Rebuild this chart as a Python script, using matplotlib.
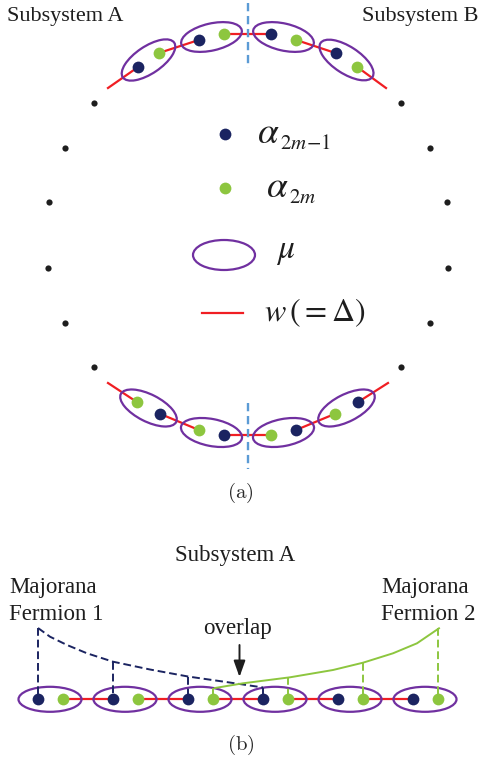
import numpy as np
import matplotlib.pyplot as plt
from matplotlib.patches import Ellipse

NAVY = '#1b2461'
GREEN = '#8dc63f'
PURPLE = '#7030a0'
RED = '#f01e23'
BLUE = '#5b9bd5'
SERIF = ['Liberation Serif', 'DejaVu Serif']
INK = '#1e1e1e'

# (a) ring of sites, pixel units of the figure
top_x = [148.5, 211.5, 283.5, 346.5]
top_y = [60, 37, 37, 60]
top_tilt = [-34, -13, 13, 33]
bot_x = [148.5, 211.5, 283.5, 346.5]
bot_y = [408, 432.5, 432.5, 408]
bot_tilt = [27, 11, -11, -27]
top_ends = [(108, 88), (386, 88)]
bot_ends = [(108, 383), (388, 383)]
ring_left_x = [94.3, 65, 49, 47.7, 65, 94.3]
ring_right_x = [400.5, 429.5, 446.5, 447.5, 430, 400.5]
ring_y = [103, 147.5, 201.5, 268, 322.5, 367]
cut_x = 247.5

# (b) open chain
chain_x = [50, 125, 200, 275, 350, 425]
chain_y = 699.3
mf1_curve_x = [38, 50, 67, 87, 113, 150, 188, 233, 263]
mf1_curve_y = [628, 636.7, 645, 653.3, 661.7, 669.5, 676.5, 683, 687.5]
mf2_curve_x = [215, 243, 290, 333, 363, 393, 417, 439]
mf2_curve_y = [688, 683.3, 677.3, 670, 662.7, 653.3, 643.3, 628.3]
mf1_drop_top = [628, 661.7, 676.5, 687.5]   # at the dark dots of sites 1-4
mf2_drop_top = [688, 677.3, 662.7, 628.3]   # at the green dots of sites 3-6

half = 12.5

fig = plt.figure(figsize=(4.84, 7.6), dpi=100)
ax = fig.add_axes([0, 0, 1, 1])
ax.set_xlim(0, 484)
ax.set_ylim(760, 0)
ax.set_aspect('equal')
ax.axis('off')


def site(cx, cy, tilt, w=62, h=27):
    t = np.radians(tilt)
    dx, dy = half * np.cos(t), half * np.sin(t)
    ax.add_patch(Ellipse((cx, cy), w, h, angle=tilt, fill=False,
                         ec=PURPLE, lw=1.6, zorder=2))
    return (cx - dx, cy - dy), (cx + dx, cy + dy)


def dot(p, c, s=72):
    ax.scatter([p[0]], [p[1]], s=s, c=c, lw=0, zorder=3)


def seg(p, q, **kw):
    ax.plot([p[0], q[0]], [p[1], q[1]], **kw)


# top arc: dark then green in each site
tops = [site(x, y, t) for x, y, t in zip(top_x, top_y, top_tilt)]
for a, b in tops:
    dot(a, NAVY)
    dot(b, GREEN)
seg(top_ends[0], tops[0][0], color=RED, lw=1.6, zorder=1)
for i in range(3):
    seg(tops[i][1], tops[i + 1][0], color=RED, lw=1.6, zorder=1)
seg(tops[-1][1], top_ends[1], color=RED, lw=1.6, zorder=1)

# bottom arc: green then dark
bots = [site(x, y, t) for x, y, t in zip(bot_x, bot_y, bot_tilt)]
for a, b in bots:
    dot(a, GREEN)
    dot(b, NAVY)
seg(bot_ends[0], bots[0][0], color=RED, lw=1.6, zorder=1)
for i in range(3):
    seg(bots[i][1], bots[i + 1][0], color=RED, lw=1.6, zorder=1)
seg(bots[-1][1], bot_ends[1], color=RED, lw=1.6, zorder=1)

ax.plot([cut_x, cut_x], [3, 68], color=BLUE, lw=1.7, ls=(0, (3.5, 2)), zorder=4)
ax.plot([cut_x, cut_x], [403, 469], color=BLUE, lw=1.7, ls=(0, (3.5, 2)), zorder=4)

ax.scatter(ring_left_x + ring_right_x, ring_y + ring_y, s=20, c=INK, lw=0)

ax.text(7, 21, 'Subsystem A', family=SERIF, fontsize=16, color=INK)
ax.text(479, 21, 'Subsystem B', family=SERIF, fontsize=16, color=INK, ha='right')

# legend
dot((225, 134.3), NAVY)
dot((225, 188.3), GREEN)
ax.add_patch(Ellipse((224, 255), 62, 30, fill=False, ec=PURPLE, lw=1.6))
seg((201.7, 312.7), (243.3, 312.7), color=RED, lw=1.6)
ax.text(257, 143, r'$\alpha$', fontsize=27, math_fontfamily='stix', va='baseline', color=INK)
ax.text(280, 149, r'$2m\!-\!1$', fontsize=15, math_fontfamily='stix', va='baseline', color=INK)
ax.text(266, 197, r'$\alpha$', fontsize=27, math_fontfamily='stix', va='baseline', color=INK)
ax.text(289, 203, r'$2m$', fontsize=15, math_fontfamily='stix', va='baseline', color=INK)
ax.text(276, 258, r'$\mu$', fontsize=24, math_fontfamily='stix', va='baseline', color=INK)
ax.text(264, 321, r'$w\,(=\Delta)$', fontsize=23, math_fontfamily='stix', va='baseline', color=INK)

ax.text(240.5, 493, r'$\mathrm{(a)}$', fontsize=15, math_fontfamily='cm',
        ha='center', va='center', color='#2a2a2a')

# (b) chain
sites_b = [site(x, chain_y, 0, w=63, h=25) for x in chain_x]
for i in range(5):
    seg(sites_b[i][1], sites_b[i + 1][0], color=RED, lw=1.6, zorder=1)
for a, b in sites_b:
    dot(a, NAVY)
    dot(b, GREEN)

ax.plot(mf1_curve_x, mf1_curve_y, color=NAVY, lw=1.4, ls=(0, (4, 2)), zorder=2)
ax.plot(mf2_curve_x, mf2_curve_y, color=GREEN, lw=1.4, zorder=2)
for (a, b), top in zip(sites_b[:4], mf1_drop_top):
    ax.plot([a[0], a[0]], [top, a[1]], color=NAVY, lw=1.4, ls=(0, (4, 2)), zorder=2)
for (a, b), top in zip(sites_b[2:], mf2_drop_top):
    ax.plot([b[0], b[0]], [top, b[1]], color=GREEN, lw=1.4, ls=(0, (4, 2)), zorder=2)

ax.annotate('', xy=(239.5, 677), xytext=(239.5, 645),
            arrowprops=dict(arrowstyle='-|>,head_length=0.7,head_width=0.25',
                            color=INK, lw=1.4, mutation_scale=14,
                            shrinkA=0, shrinkB=0))

ax.text(235, 561, 'Subsystem A', family=SERIF, fontsize=16.5, color=INK, ha='center')
ax.text(9, 593, 'Majorana', family=SERIF, fontsize=16.5, color=INK)
ax.text(9, 620.5, 'Fermion 1', family=SERIF, fontsize=16.5, color=INK)
ax.text(381, 593, 'Majorana', family=SERIF, fontsize=16.5, color=INK)
ax.text(381, 620.5, 'Fermion 2', family=SERIF, fontsize=16.5, color=INK)
ax.text(238, 634, 'overlap', family=SERIF, fontsize=16.5, color=INK, ha='center')
ax.text(240.5, 745, r'$\mathrm{(b)}$', fontsize=15, math_fontfamily='cm',
        ha='center', va='center', color='#2a2a2a')

fig.savefig('out.png', dpi=100)
